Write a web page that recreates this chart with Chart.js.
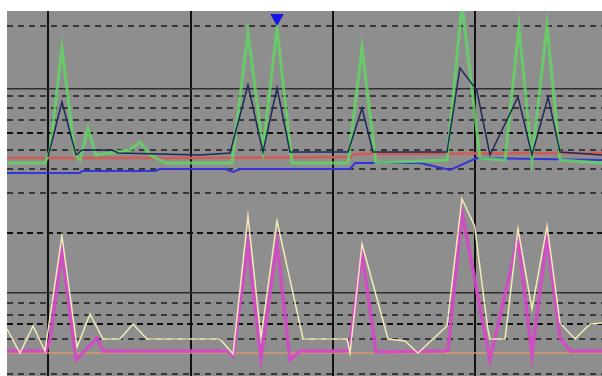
<!DOCTYPE html>
<html>
<head>
<meta charset="utf-8">
<title>Scope traces</title>
<script src="https://cdn.jsdelivr.net/npm/chart.js@4/dist/chart.umd.min.js"></script>
<style>
  html, body { margin: 0; padding: 0; background: #fff; }
  #wrap { width: 602px; height: 376px; }
</style>
</head>
<body>
<div id="wrap"><canvas id="scope" width="602" height="376"></canvas></div>
<script>
// time axis (ms), one division = 100
const xMin = 71;
const xMax = 489;
const xDivisions = [100, 200, 300, 400];

// level axis, both channels share it
const yMin = 0;
const yMax = 365;
const ySolid = [287, 83];
const yDarkDash = [243, 143, 52];
const yDash = [350, 280, 268, 256, 226, 207, 183, 73, 61, 37, 2];

// top panel
const greenX = [71, 97.7, 101.2, 109.6, 118.8, 122.3, 127.9, 133.5, 157.4, 164.4, 171.5, 178.5, 182, 229.1, 240.3, 250.8, 260.7, 271.2, 310.6, 320.4, 330.2, 380.1, 390.6, 403.3, 420.9, 430.7, 439.8, 450.4, 459.5, 489];
const greenY = [213, 213, 226, 328, 221, 216, 248, 221, 226, 234, 221, 216, 213, 213, 344, 226, 348, 213, 213, 328, 213, 216, 372, 218, 216, 349, 216, 351, 216, 213];

const navyX = [99.8, 109.6, 119.5, 123.7, 144.8, 149, 206.6, 227.7, 240.3, 250.8, 260.7, 269.8, 310.6, 320.4, 328.1, 380.1, 389.2, 401, 410.3, 430, 439.8, 451.1, 459.5, 489];
const navyY = [219, 274, 221, 226, 226, 223, 221, 223, 291, 224, 288, 224, 224, 268, 224, 224, 308, 286, 221, 279, 221, 279, 224, 221];

const redX = [71, 206.6, 312, 315.5, 489];
const redY = [218, 218, 219, 222, 223];

const blueX = [71, 122.3, 123.7, 175, 178.5, 224.2, 229.8, 234.7, 312, 315.5, 361.2, 382.2, 401, 489];
const blueY = [203, 203, 205, 205, 207, 207, 204, 207, 207, 213, 213, 206, 218, 216];

// bottom panel
const magentaX = [71, 98.4, 101.2, 109.6, 119.5, 134.2, 138.4, 226.3, 229.8, 240.3, 249.4, 260.7, 269.8, 276.8, 308.5, 311.3, 320.4, 330.2, 378, 380.8, 390.6, 410.3, 430, 439.8, 450.4, 459.5, 466.5, 489];
const magentaY = [25, 25, 36, 126, 16, 38, 25, 25, 20, 132, 18, 133, 16, 25, 25, 26, 123, 24, 25, 26, 164, 16, 138, 21, 139, 38, 25, 25];

const creamX = [71, 80.1, 89.3, 97.7, 109.6, 120.2, 129.3, 138.4, 150.4, 159.5, 169.4, 220.6, 229.8, 240.3, 249.4, 260.7, 279, 309.9, 312, 320.4, 338.7, 350.6, 359.7, 370.3, 380.1, 390.6, 399.5, 408.9, 410.3, 420.9, 430, 439.8, 450.4, 459.5, 470, 480.6, 489];
const creamY = [47, 23, 50, 25, 140, 29, 62, 37, 37, 52, 37, 37, 22, 160, 38, 155, 37, 37, 23, 132, 37, 35, 23, 37, 50, 177, 150, 46, 37, 37, 147, 67, 150, 53, 37, 52, 53];

const orangeX = [71, 489];
const orangeY = [23, 23];

// trigger marker
const markerX = [260.7];
const markerY = [358];

const pts = (xs, ys) => xs.map((x, i) => ({ x: x, y: ys[i] }));

const trace = (label, xs, ys, color, width) => ({
  label: label,
  data: pts(xs, ys),
  borderColor: color,
  borderWidth: width,
  pointRadius: 0,
  tension: 0,
  fill: false,
});

const scopeBackground = {
  id: 'scopeBackground',
  beforeDraw(chart) {
    const { ctx, chartArea } = chart;
    ctx.save();
    ctx.fillStyle = '#8e8e8e';
    ctx.fillRect(chartArea.left, chartArea.top, chartArea.right - chartArea.left, chartArea.bottom - chartArea.top);
    ctx.restore();
  },
};

const gridStyle = (value) => {
  if (ySolid.includes(value)) return { color: '#2e2e2e', width: 1.5, dash: [] };
  if (yDarkDash.includes(value)) return { color: '#101010', width: 2, dash: [6, 4] };
  return { color: '#383838', width: 2, dash: [6, 5] };
};

new Chart(document.getElementById('scope'), {
  type: 'line',
  data: {
    datasets: [
      {
        label: 'trigger',
        data: pts(markerX, markerY),
        showLine: false,
        pointStyle: 'triangle',
        rotation: 180,
        pointRadius: 7,
        backgroundColor: '#1414e6',
        borderColor: '#1414e6',
      },
      trace('ch2 cream', creamX, creamY, 'rgba(245, 240, 185, 0.95)', 1.5),
      trace('ch2 magenta', magentaX, magentaY, 'rgba(214, 72, 200, 0.9)', 3.5),
      trace('ch2 orange', orangeX, orangeY, '#d49a6c', 1.5),
      trace('ch1 navy', navyX, navyY, '#1e2a58', 1.5),
      trace('ch1 green', greenX, greenY, 'rgba(96, 218, 96, 0.8)', 3),
      trace('ch1 red', redX, redY, '#d45a55', 2.5),
      trace('ch1 blue', blueX, blueY, '#3434d8', 2),
    ],
  },
  options: {
    responsive: false,
    animation: false,
    layout: { autoPadding: false, padding: { left: 7, top: 11, right: 0, bottom: 0 } },
    plugins: {
      legend: { display: false },
      tooltip: { enabled: false },
    },
    scales: {
      x: {
        type: 'linear',
        min: xMin,
        max: xMax,
        afterBuildTicks: (scale) => {
          scale.ticks = xDivisions.map((v) => ({ value: v }));
        },
        afterFit: (scale) => { scale.height = 0; },
        ticks: { display: false },
        border: { display: false },
        grid: { color: '#111111', lineWidth: 2, drawTicks: false },
      },
      y: {
        type: 'linear',
        min: yMin,
        max: yMax,
        afterBuildTicks: (scale) => {
          scale.ticks = [...ySolid, ...yDarkDash, ...yDash].map((v) => ({ value: v }));
        },
        afterFit: (scale) => { scale.width = 0; },
        ticks: { display: false },
        border: {
          display: false,
          dash: (ctx) => gridStyle(ctx.tick ? ctx.tick.value : 0).dash,
        },
        grid: {
          drawTicks: false,
          color: (ctx) => gridStyle(ctx.tick ? ctx.tick.value : 0).color,
          lineWidth: (ctx) => gridStyle(ctx.tick ? ctx.tick.value : 0).width,
        },
      },
    },
  },
  plugins: [scopeBackground],
});
</script>
</body>
</html>
